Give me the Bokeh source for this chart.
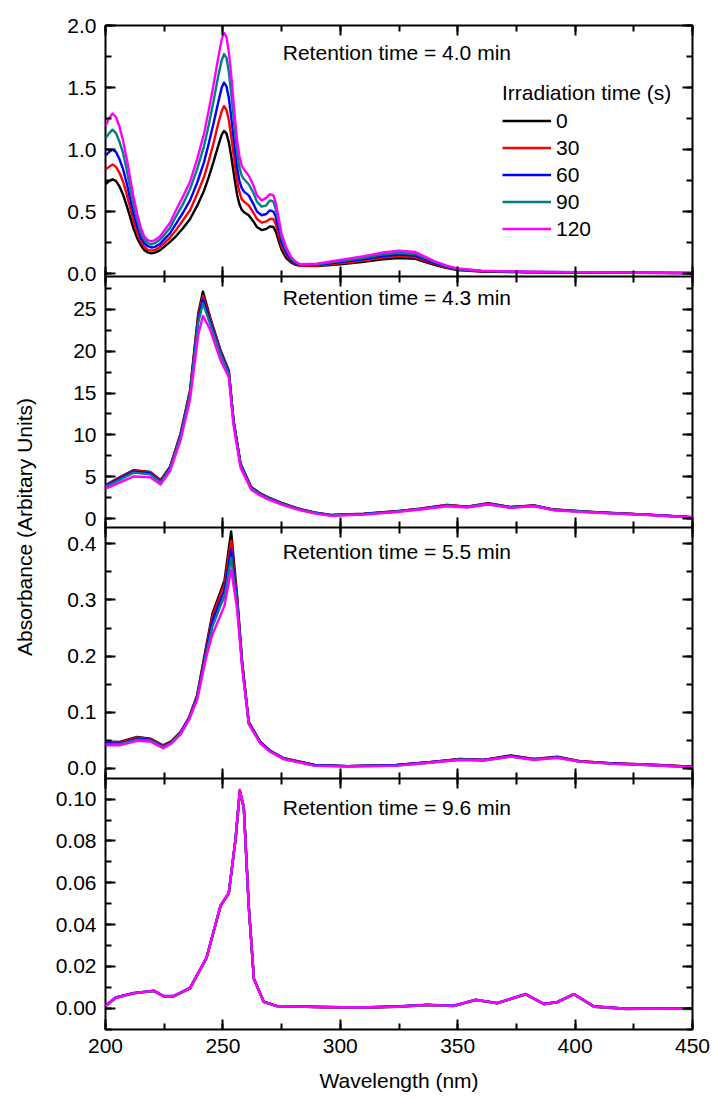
import math
from bokeh.plotting import figure
from bokeh.models import (Range1d, LinearAxis, SingleIntervalTicker, NumeralTickFormatter,
                          Label, Legend, LegendItem)
from bokeh.layouts import row, column
from bokeh.embed import file_html
from bokeh.resources import INLINE

FONT = "Liberation Sans"

series_labels = ["0", "30", "60", "90", "120"]
colors = ["#000000", "#ff0000", "#0000ff", "#008080", "#ff00ff"]

# ---------------- Panel 1: retention time 4.0 min ----------------
wl1 = [200, 201.5, 203, 204.5, 206, 207.5, 209, 210.5, 212, 213.5,
       215, 216.5, 218, 219.5, 221, 223, 225, 227.5, 230, 233,
       236, 239, 242, 244, 246, 248, 249.5, 250.5, 251.5, 252.5,
       253.5, 255, 256, 257, 258, 259, 261, 263, 264.5, 266.5,
       268.5, 270, 271.5, 272.5, 274, 275, 277, 279, 281, 283,
       290, 300, 310, 318, 325, 332, 340, 345, 350, 360,
       380, 400, 425, 450]
p1_s0 = [0.72, 0.745, 0.76, 0.745, 0.70, 0.635, 0.55, 0.455, 0.36, 0.285,
         0.23, 0.19, 0.17, 0.163, 0.168, 0.185, 0.215, 0.255, 0.30, 0.365,
         0.44, 0.545, 0.67, 0.78, 0.90, 1.03, 1.12, 1.15, 1.13, 1.06,
         0.95, 0.76, 0.64, 0.56, 0.515, 0.495, 0.47, 0.42, 0.375, 0.35,
         0.36, 0.38, 0.375, 0.34, 0.25, 0.19, 0.125, 0.09, 0.07, 0.062,
         0.06, 0.075, 0.095, 0.115, 0.125, 0.118, 0.07, 0.045, 0.028, 0.016,
         0.010, 0.008, 0.005, 0.003]
p1_s30 = [0.84, 0.86, 0.88, 0.86, 0.81, 0.74, 0.64, 0.53, 0.42, 0.33,
          0.26, 0.215, 0.19, 0.185, 0.19, 0.21, 0.245, 0.29, 0.35, 0.43,
          0.51, 0.64, 0.78, 0.91, 1.05, 1.21, 1.31, 1.35, 1.32, 1.24,
          1.11, 0.89, 0.75, 0.66, 0.60, 0.58, 0.55, 0.49, 0.44, 0.41,
          0.42, 0.44, 0.44, 0.40, 0.29, 0.22, 0.15, 0.10, 0.075, 0.065,
          0.065, 0.083, 0.105, 0.128, 0.14, 0.131, 0.078, 0.05, 0.031, 0.018,
          0.011, 0.009, 0.006, 0.003]
p1_s60 = [0.95, 0.98, 1.00, 0.98, 0.92, 0.84, 0.73, 0.60, 0.48, 0.38,
          0.29, 0.245, 0.22, 0.21, 0.215, 0.235, 0.275, 0.325, 0.40, 0.49,
          0.59, 0.73, 0.90, 1.05, 1.21, 1.38, 1.50, 1.54, 1.51, 1.42,
          1.27, 1.02, 0.86, 0.75, 0.69, 0.66, 0.63, 0.56, 0.50, 0.47,
          0.48, 0.51, 0.50, 0.46, 0.34, 0.25, 0.17, 0.11, 0.08, 0.068,
          0.07, 0.092, 0.116, 0.14, 0.153, 0.144, 0.085, 0.055, 0.034, 0.02,
          0.012, 0.010, 0.006, 0.004]
p1_s90 = [1.09, 1.13, 1.16, 1.13, 1.06, 0.97, 0.84, 0.69, 0.55, 0.43,
          0.33, 0.275, 0.245, 0.235, 0.245, 0.27, 0.31, 0.37, 0.46, 0.56,
          0.68, 0.84, 1.03, 1.20, 1.39, 1.59, 1.72, 1.77, 1.74, 1.63,
          1.46, 1.17, 0.99, 0.86, 0.79, 0.76, 0.72, 0.65, 0.58, 0.54,
          0.55, 0.59, 0.58, 0.52, 0.39, 0.29, 0.19, 0.125, 0.09, 0.071,
          0.075, 0.10, 0.127, 0.154, 0.168, 0.158, 0.094, 0.06, 0.037, 0.021,
          0.013, 0.011, 0.007, 0.004]
p1_s120 = [1.19, 1.25, 1.29, 1.26, 1.18, 1.07, 0.93, 0.77, 0.61, 0.48,
           0.37, 0.30, 0.27, 0.26, 0.27, 0.295, 0.345, 0.41, 0.51, 0.62,
           0.74, 0.92, 1.13, 1.32, 1.52, 1.74, 1.89, 1.94, 1.91, 1.79,
           1.61, 1.28, 1.08, 0.95, 0.87, 0.84, 0.79, 0.71, 0.63, 0.59,
           0.61, 0.64, 0.63, 0.57, 0.42, 0.32, 0.21, 0.135, 0.095, 0.075,
           0.08, 0.11, 0.14, 0.169, 0.185, 0.173, 0.10, 0.066, 0.04, 0.023,
           0.014, 0.011, 0.007, 0.004]

# ---------------- Panel 2: retention time 4.3 min ----------------
wl2 = [200, 205, 212, 219, 223.5, 227.5, 232, 236, 239.5, 241.5, 244.5, 249, 252.5, 254.5, 257.5, 262,
       265.5, 269, 275, 279, 283, 289, 296, 310, 324, 334, 345.5, 354, 363, 372.5, 382.5, 391, 409,
       431, 450]
p2_s0 = [4.0, 4.8, 5.8, 5.6, 4.6, 6.2, 10.2, 15.3, 24.5, 27.1, 24.1, 20.1, 17.7, 11.8, 6.6, 3.8,
         3.1, 2.6, 1.9, 1.5, 1.15, 0.75, 0.45, 0.6, 0.9, 1.2, 1.65, 1.45, 1.85, 1.4, 1.6, 1.1, 0.8,
         0.5, 0.2]
p2_s30 = [3.95, 4.75, 5.75, 5.55, 4.55, 6.15, 10.1, 15.2, 24.2, 26.6, 23.9, 20.0, 17.6, 11.75, 6.55, 3.78,
          3.08, 2.57, 1.88, 1.48, 1.13, 0.74, 0.44, 0.59, 0.89, 1.19, 1.64, 1.44, 1.84, 1.39, 1.59, 1.09,
          0.79, 0.49, 0.19]
p2_s60 = [3.9, 4.65, 5.65, 5.45, 4.45, 6.05, 9.95, 15.0, 23.8, 26.2, 23.6, 19.8, 17.5, 11.7, 6.5, 3.72,
          3.04, 2.53, 1.84, 1.46, 1.1, 0.72, 0.42, 0.57, 0.87, 1.17, 1.6, 1.42, 1.8, 1.37, 1.56, 1.07,
          0.77, 0.48, 0.18]
p2_s90 = [3.8, 4.5, 5.5, 5.3, 4.35, 5.95, 9.8, 14.8, 23.4, 25.7, 23.3, 19.6, 17.3, 11.6, 6.4, 3.65,
          2.98, 2.48, 1.8, 1.42, 1.07, 0.7, 0.4, 0.55, 0.85, 1.15, 1.57, 1.4, 1.77, 1.35, 1.54, 1.05,
          0.75, 0.47, 0.17]
p2_s120 = [3.6, 4.2, 5.05, 4.95, 4.1, 5.7, 9.4, 14.2, 22.0, 24.2, 22.6, 18.9, 16.9, 11.2, 6.1, 3.5,
           2.85, 2.35, 1.7, 1.33, 1.0, 0.65, 0.35, 0.5, 0.8, 1.1, 1.5, 1.35, 1.7, 1.3, 1.5, 1.0,
           0.7, 0.45, 0.15]

# ---------------- Panel 3: retention time 5.5 min ----------------
wl3 = [200, 206, 213.5, 219, 224.5, 228, 232, 235.5, 239, 243, 245.5, 249, 250.7, 253.5, 256, 258.2,
       261, 266, 270, 276, 289, 303, 324, 338, 351, 361, 372.5, 382.5, 392.5, 402, 416.5, 431, 450]
p3_s0 = [0.048, 0.047, 0.056, 0.053, 0.041, 0.048, 0.065, 0.090, 0.130, 0.220, 0.275, 0.315, 0.335,
         0.422, 0.310, 0.190, 0.083, 0.047, 0.032, 0.018, 0.006, 0.004, 0.006, 0.011, 0.017, 0.015,
         0.023, 0.017, 0.021, 0.013, 0.009, 0.007, 0.003]
p3_s30 = [0.047, 0.046, 0.055, 0.052, 0.040, 0.047, 0.064, 0.089, 0.128, 0.215, 0.270, 0.310, 0.328,
          0.405, 0.305, 0.188, 0.082, 0.046, 0.031, 0.018, 0.006, 0.004, 0.006, 0.011, 0.017, 0.015,
          0.022, 0.017, 0.020, 0.013, 0.009, 0.007, 0.003]
p3_s60 = [0.045, 0.044, 0.053, 0.051, 0.039, 0.046, 0.063, 0.088, 0.126, 0.210, 0.262, 0.300, 0.318,
          0.390, 0.300, 0.186, 0.081, 0.046, 0.031, 0.017, 0.006, 0.004, 0.006, 0.011, 0.016, 0.015,
          0.022, 0.016, 0.020, 0.012, 0.009, 0.006, 0.003]
p3_s90 = [0.043, 0.043, 0.051, 0.050, 0.038, 0.045, 0.062, 0.087, 0.124, 0.205, 0.252, 0.290, 0.306,
          0.375, 0.295, 0.184, 0.080, 0.045, 0.030, 0.017, 0.005, 0.004, 0.005, 0.010, 0.016, 0.014,
          0.021, 0.016, 0.019, 0.012, 0.008, 0.006, 0.002]
p3_s120 = [0.041, 0.041, 0.049, 0.048, 0.036, 0.044, 0.061, 0.086, 0.122, 0.200, 0.238, 0.273, 0.290,
           0.354, 0.285, 0.180, 0.079, 0.044, 0.030, 0.016, 0.005, 0.003, 0.005, 0.010, 0.015, 0.014,
           0.021, 0.015, 0.019, 0.012, 0.008, 0.006, 0.002]

# ---------------- Panel 4: retention time 9.6 min ----------------
wl4 = [200, 204.3, 212, 220.6, 224.8, 229, 236, 243, 249, 252.5, 255.4, 257.2, 258.9, 261, 263.2, 267.4,
       273, 290, 308.6, 325, 337, 348.3, 357.6, 366.8, 379, 386.7, 392.4, 399.5, 408, 422, 435, 450]
p4_s0 = [0.0010, 0.0050, 0.0072, 0.0083, 0.0057, 0.0057, 0.0096, 0.0240, 0.0490, 0.0550, 0.0810, 0.1040,
         0.0960, 0.0490, 0.0140, 0.0030, 0.0010, 0.0006, 0.0003, 0.0008, 0.0016, 0.0011, 0.0040, 0.0024,
         0.0067, 0.0020, 0.0029, 0.0067, 0.0008, -0.0003, -0.0002, -0.0003]
p4_s30 = [0.0011, 0.0049, 0.0071, 0.0082, 0.0056, 0.0058, 0.0095, 0.0238, 0.0488, 0.0548, 0.0808, 0.1035,
          0.0958, 0.0489, 0.0141, 0.0031, 0.0009, 0.0005, 0.0002, 0.0007, 0.0015, 0.0010, 0.0039, 0.0023,
          0.0066, 0.0019, 0.0028, 0.0066, 0.0007, -0.0004, -0.0002, -0.0002]
p4_s60 = [0.0012, 0.0051, 0.0073, 0.0084, 0.0058, 0.0058, 0.0097, 0.0242, 0.0492, 0.0552, 0.0812, 0.1042,
          0.0962, 0.0491, 0.0142, 0.0031, 0.0011, 0.0007, 0.0004, 0.0009, 0.0017, 0.0012, 0.0041, 0.0025,
          0.0068, 0.0021, 0.0030, 0.0068, 0.0009, -0.0002, -0.0001, -0.0002]
p4_s90 = [0.0009, 0.0048, 0.0071, 0.0082, 0.0056, 0.0056, 0.0095, 0.0239, 0.0489, 0.0549, 0.0809, 0.1038,
          0.0959, 0.0488, 0.0139, 0.0029, 0.0010, 0.0005, 0.0002, 0.0007, 0.0015, 0.0010, 0.0039, 0.0023,
          0.0066, 0.0019, 0.0028, 0.0066, 0.0007, -0.0004, -0.0003, -0.0004]
p4_s120 = [0.0010, 0.0050, 0.0072, 0.0084, 0.0057, 0.0057, 0.0096, 0.0241, 0.0491, 0.0551, 0.0812, 0.1045,
           0.0965, 0.0490, 0.0140, 0.0030, 0.0010, 0.0006, 0.0003, 0.0008, 0.0016, 0.0011, 0.0041, 0.0024,
           0.0068, 0.0020, 0.0029, 0.0068, 0.0008, -0.0003, -0.0002, -0.0003]

retention_labels = ["Retention time = 4.0 min", "Retention time = 4.3 min",
                    "Retention time = 5.5 min", "Retention time = 9.6 min"]
x_ticks_interval = 50
x_label = "Wavelength (nm)"
y_label = "Absorbance (Arbitary Units)"
legend_title = "Irradiation time (s)"

# ---------------- layout constants ----------------
FW, FH = 587, 251
LEFT, RIGHT = 61, 19
TOP, BOTTOM = 25, 69
OVER = 14          # overlap of neighbouring panels (room for edge tick labels)
LABW = 44
H = TOP + FH + OVER + 2 * FH + FH + BOTTOM


def style_axis(ax, show_labels):
    ax.major_tick_in = 10
    ax.major_tick_out = 0
    ax.minor_tick_in = 6
    ax.minor_tick_out = 0
    ax.major_tick_line_width = 2
    ax.minor_tick_line_width = 2
    ax.major_tick_line_color = "black"
    ax.minor_tick_line_color = "black"
    ax.axis_line_color = None
    if show_labels:
        ax.major_label_text_font = FONT
        ax.major_label_text_font_size = "21px"
        ax.major_label_text_color = "black"
        ax.major_label_standoff = 9
    else:
        ax.major_label_text_font_size = "0px"
        ax.major_label_standoff = 0
        ax.major_label_text_color = None


def make_panel(wl, series, yr, interval, fmt, text, text_y, top, bottom, margin, last):
    p = figure(frame_width=FW, frame_height=FH, x_range=Range1d(200, 450), y_range=Range1d(*yr),
               toolbar_location=None, output_backend="svg",
               x_axis_location=None, y_axis_location=None,
               min_border_left=LEFT, min_border_right=RIGHT,
               min_border_top=top, min_border_bottom=bottom, margin=margin)
    p.grid.visible = False
    p.outline_line_color = "black"
    p.outline_line_width = 2
    p.background_fill_color = "white"
    p.border_fill_alpha = 0
    rs = [p.line(wl, ys, line_color=c, line_width=2.4, line_join="round")
          for ys, c in zip(series, colors)]

    xt = SingleIntervalTicker(interval=x_ticks_interval, num_minor_ticks=2)
    yt = SingleIntervalTicker(interval=interval, num_minor_ticks=2)
    bx = LinearAxis(ticker=xt)
    style_axis(bx, last)
    if last:
        bx.axis_label = x_label
        bx.axis_label_text_font = FONT
        bx.axis_label_text_font_size = "21px"
        bx.axis_label_text_font_style = "normal"
        bx.axis_label_text_color = "black"
        bx.axis_label_standoff = 13
    p.add_layout(bx, "below")
    tx = LinearAxis(ticker=xt)
    style_axis(tx, False)
    p.add_layout(tx, "above")
    ly = LinearAxis(ticker=yt, formatter=NumeralTickFormatter(format=fmt))
    style_axis(ly, True)
    p.add_layout(ly, "left")
    ry = LinearAxis(ticker=yt)
    style_axis(ry, False)
    p.add_layout(ry, "right")

    p.add_layout(Label(x=275.5, y=text_y, text=text, text_font=FONT, text_font_size="21px",
                       text_color="black", text_align="left", text_baseline="middle"))
    return p, rs


p1, rs1 = make_panel(wl1, [p1_s0, p1_s30, p1_s60, p1_s90, p1_s120], (-0.024, 2.0), 0.5, "0.0",
                     retention_labels[0], 1.78, TOP, OVER, (0, 0, 0, 0), False)
p2, _ = make_panel(wl2, [p2_s0, p2_s30, p2_s60, p2_s90, p2_s120], (-1.04, 28.9), 5, "0",
                   retention_labels[1], 26.4, 0, OVER, (-OVER, 0, 0, 0), False)
p3, _ = make_panel(wl3, [p3_s0, p3_s30, p3_s60, p3_s90, p3_s120], (-0.018, 0.429), 0.1, "0.0",
                   retention_labels[2], 0.387, 0, OVER, (-OVER, 0, 0, 0), False)
p4, _ = make_panel(wl4, [p4_s0, p4_s30, p4_s60, p4_s90, p4_s120], (-0.0102, 0.1099), 0.02, "0.00",
                   retention_labels[3], 0.096, 0, BOTTOM, (-OVER, 0, 0, 0), True)

legend = Legend(items=[LegendItem(label=l, renderers=[r]) for l, r in zip(series_labels, rs1)],
                location=(397, 34), title=legend_title,
                title_text_font=FONT, title_text_font_size="21px", title_text_font_style="normal",
                title_text_color="black", title_standoff=2,
                label_text_font=FONT, label_text_font_size="21px", label_text_color="black",
                glyph_width=49, glyph_height=27, label_height=27, spacing=0, padding=0, margin=0,
                label_standoff=5, border_line_color=None, background_fill_alpha=0)
p1.add_layout(legend)

lab = figure(frame_width=LABW, frame_height=H, x_range=Range1d(0, LABW), y_range=Range1d(0, H),
             toolbar_location=None, output_backend="svg", x_axis_location=None, y_axis_location=None,
             min_border=0)
lab.grid.visible = False
lab.outline_line_color = None
lab.add_layout(Label(x=24, y=H - 526.5, text=y_label, angle=math.pi / 2,
                     text_align="center", text_baseline="middle", text_font=FONT,
                     text_font_size="21px", text_color="black"))

layout = row(lab, column(p1, p2, p3, p4))
open("out.html", "w").write(file_html(layout, INLINE))
